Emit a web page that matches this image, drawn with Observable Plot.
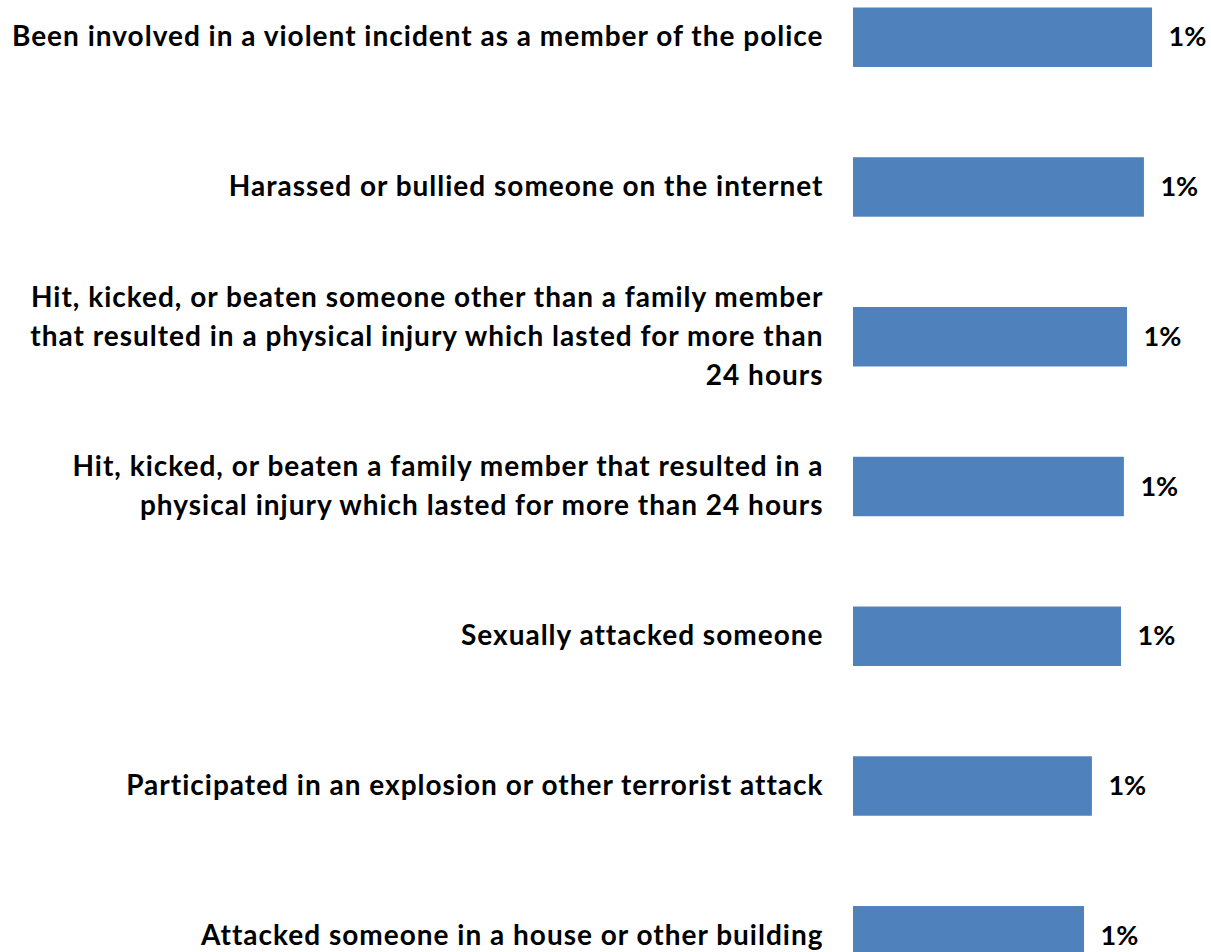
<!DOCTYPE html>
<html>
<head>
<meta charset="utf-8">
<script src="https://cdn.jsdelivr.net/npm/d3@7"></script>
<script src="https://cdn.jsdelivr.net/npm/@observablehq/plot@0.6"></script>
<style>
  html, body { margin: 0; padding: 0; background: #fff; }
  .lbl text { letter-spacing: 1px; }
</style>
</head>
<body>
<div id="chart"></div>
<script>
const categories = [
  "Been involved in a violent incident as a member of the police",
  "Harassed or bullied someone on the internet",
  "Hit, kicked, or beaten someone other than a family member that resulted in a physical injury which lasted for more than 24 hours",
  "Hit, kicked, or beaten a family member that resulted in a physical injury which lasted for more than 24 hours",
  "Sexually attacked someone",
  "Participated in an explosion or other terrorist attack",
  "Attacked someone in a house or other building"
];
const tickLabels = [
  "Been involved in a violent incident as a member of the police",
  "Harassed or bullied someone on the internet",
  "Hit, kicked, or beaten someone other than a family member\nthat resulted in a physical injury which lasted for more than\n24 hours",
  "Hit, kicked, or beaten a family member that resulted in a\nphysical injury which lasted for more than 24 hours",
  "Sexually attacked someone",
  "Participated in an explosion or other terrorist attack",
  "Attacked someone in a house or other building"
];
const values = [1.253, 1.219, 1.148, 1.135, 1.123, 1.001, 0.968];
const valueLabels = ["1%", "1%", "1%", "1%", "1%", "1%", "1%"];

const data = categories.map((c, i) => ({category: c, value: values[i], label: valueLabels[i]}));
const labelOf = new Map(categories.map((c, i) => [c, tickLabels[i]]));

const chart = Plot.plot({
  width: 1211,
  height: 952,
  marginLeft: 853,
  marginRight: 0,
  marginTop: 0,
  marginBottom: 0,
  style: {fontFamily: "Lato, sans-serif", background: "#fff", color: "#000"},
  x: {domain: [0, 1.5], range: [853, 1211], axis: null},
  y: {domain: categories, range: [7.5, 965.5], paddingInner: 0.603, paddingOuter: 0, round: false, axis: null},
  marks: [
    Plot.barX(data, {x: "value", y: "category", fill: "#4F81BD"}),
    Plot.axisY({
      label: null,
      tickSize: 0,
      tickPadding: 30,
      tickFormat: d => labelOf.get(d),
      fontSize: 28,
      fontWeight: "bold",
      lineHeight: 1.39,
      dy: -4,
      fill: "#000",
      className: "lbl"
    }),
    Plot.text(data, {
      x: "value", y: "category", text: "label",
      textAnchor: "start", dx: 16,
      fontSize: 27, fontWeight: "bold", fill: "#000"
    })
  ]
});
document.getElementById("chart").appendChild(chart);
</script>
</body>
</html>
